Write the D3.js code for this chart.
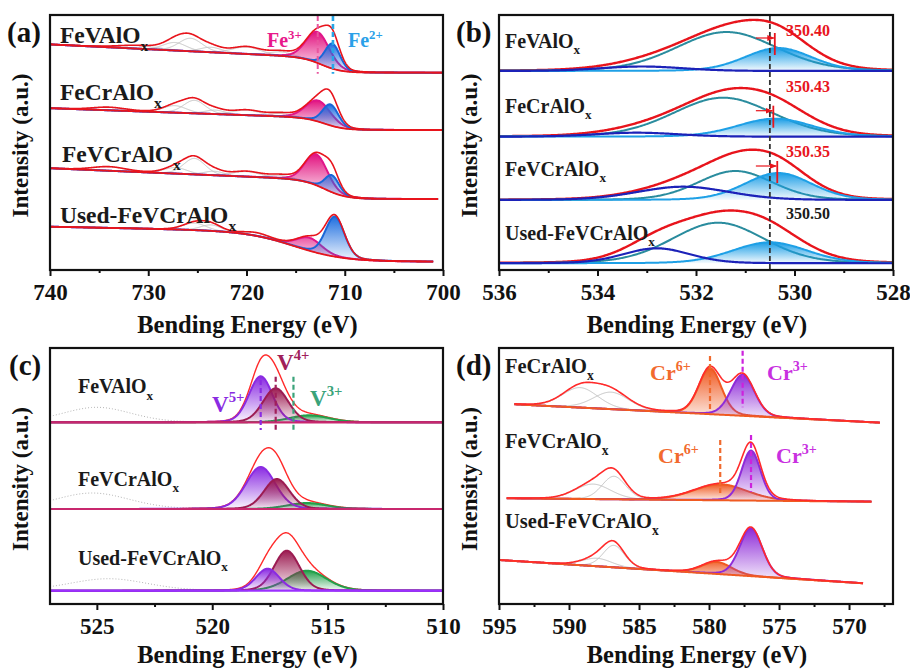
<!DOCTYPE html>
<html>
<head>
<meta charset="utf-8">
<script src="https://cdn.jsdelivr.net/npm/d3@7"></script>
<style>
  body { margin: 0; background: #fff; }
  text { font-family: "Liberation Serif", "Times New Roman", serif; font-weight: bold; }
</style>
</head>
<body>
<svg id="fig" width="910" height="670"></svg>
<script>
//
// Data (peak fits: [centre eV, height a.u., FWHM eV])
//

// (a) Fe 2p
const feDomain = [740, 700];
const feTicks = [740, 730, 720, 710, 700];
const feMinor = [735, 725, 715, 705];
const feSamples = ["FeVAlO", "FeCrAlO", "FeVCrAlO", "Used-FeVCrAlO"];
const feOffset = [197.3, 140, 71, 8.3];
const feEnd = [700, 700, 700.5, 701];
// shirley-ish background: [step, step centre, step width, slope on high BE side]
const feBg = [[15, 712.3, 1.0, 0.48], [12, 712, 1.0, 0.35], [19, 712, 1.1, 0.42], [30, 715, 2.5, 0.2]];
const fe3 = [[712.75, 31, 2.8], [712.7, 21, 3.0], [712.9, 31, 2.7], [713.6, 13, 3.0]];
const fe2 = [[711.25, 25, 1.8], [711.45, 21, 1.9], [711.3, 17, 1.7], [711.0, 40, 2.3]];
const feSat = [
  [[731, 3, 5], [727.3, 8, 2.8], [725.7, 13, 2.8], [723.6, 5, 2.6], [720.0, 7, 3.4], [716.5, 4, 2.8]],
  [[734, 3, 4], [727.3, 7, 2.8], [725.3, 13, 2.6], [723.2, 4, 2.4], [720.0, 5, 3.4], [716.5, 3, 2.8]],
  [[734, 4, 4], [727.2, 6, 2.8], [725.3, 16, 2.6], [723.3, 4, 2.4], [720.0, 5, 3.4], [716.5, 3, 2.8]],
  [[725.3, 7, 2.8], [723.6, 6, 2.5], [719.0, 3, 3.0]]
];
const feLines = [712.75, 711.2]; // Fe3+, Fe2+

// (b) O 1s
const oDomain = [536, 528];
const oTicks = [536, 534, 532, 530, 528];
const oMinor = [535, 533, 531, 529];
const oSamples = ["FeVAlO", "FeCrAlO", "FeVCrAlO", "Used-FeVCrAlO"];
const oOffset = [199, 133.3, 70, 6.7];
const oLatt = [[530.33, 23, 1.6], [530.4, 18, 1.8], [530.33, 27, 1.6], [530.5, 21, 1.8]];
const oVac = [[531.38, 39, 2.4], [531.45, 39, 2.4], [531.2, 29, 1.8], [531.55, 40.6, 2.2]];
const oAds = [[533.1, 4.5, 2.0], [533.2, 4, 2.0], [532.26, 13.3, 2.2], [532.8, 15, 1.6]];
const oRef = 530.5;
const oShift = [530.40, 530.43, 530.35, 530.50];
const oShiftText = ["350.40", "350.43", "350.35", "350.50"];

// (c) V 2p
const vDomain = [527.03, 510];
const vTicks = [525, 520, 515, 510];
const vMinor = [522.5, 517.5, 512.5];
const vSamples = ["FeVAlO", "FeVCrAlO", "Used-FeVCrAlO"];
const vOffset = [181.7, 95, 13.3];
const v5 = [[517.9, 46, 1.2], [517.9, 42, 1.5], [517.6, 22, 1.2]];
const v4 = [[517.25, 34, 1.3], [517.2, 30, 1.3], [516.77, 40, 1.3]];
const v3 = [[515.8, 7, 2.0], [515.9, 6, 2.0], [515.9, 20, 2.0]];
const vRaw = [[525, 15, 3.5], [525.2, 16, 3.8], [524.5, 12, 4]];
const vLines = [517.9, 517.25, 516.48]; // V5+, V4+, V3+

// (d) Cr 2p
const crDomain = [595, 566.86];
const crTicks = [595, 590, 585, 580, 575, 570];
const crMinor = [592.5, 587.5, 582.5, 577.5, 572.5, 567.5];
const crSamples = ["FeCrAlO", "FeVCrAlO", "Used-FeVCrAlO"];
const crSpan = [[593.9, 567.8], [594.45, 568.4], [595, 569]];
const crBg = [[199.7, 181.3], [105.7, 102.3], [44, 20.7]];
const cr6 = [[579.93, 46, 1.9], [579.2, 16, 4.5], [579.45, 12, 2.5]];
const cr3 = [[577.6, 41, 2.0], [577.0, 50, 1.6], [577.0, 48, 1.9]];
const crSat = [
  [[589.2, 20, 3.0], [587.0, 17, 3.0]],
  [[588.3, 15, 3.0], [586.8, 23, 2.0]],
  [[588.0, 8, 2.5], [586.8, 22, 1.8]]
];

//
// Helpers
//

const svg = d3.select("#fig");
const defs = svg.append("defs");

// gaussian-lorentzian line shape
function peak(E, p) {
  const t = (E - p[0]) / p[2];
  return p[1] * (0.85 * Math.exp(-4 * Math.LN2 * t * t) + 0.15 / (1 + 4 * t * t));
}

function gradient(id, color) {
  const g = defs.append("linearGradient").attr("id", id)
    .attr("x1", 0).attr("y1", 0).attr("x2", 0).attr("y2", 1);
  g.append("stop").attr("offset", "0%").attr("stop-color", color).attr("stop-opacity", 1);
  g.append("stop").attr("offset", "100%").attr("stop-color", color).attr("stop-opacity", 0.04);
}
gradient("gFe3", "#e2127f");
gradient("gFe2", "#1f6fe0");
gradient("gLatt", "#1c9ee6");
gradient("gV5", "#8a2be2");
gradient("gV4", "#9c1c52");
gradient("gV3", "#22a04a");
gradient("gCr6", "#f05a22");
gradient("gCr3", "#8e2bd8");

defs.append("marker").attr("id", "arrowR")
  .attr("viewBox", "0 0 10 10").attr("refX", 9).attr("refY", 5)
  .attr("markerWidth", 6).attr("markerHeight", 6).attr("orient", "auto")
  .append("path").attr("d", "M0,1L10,5L0,9z").attr("fill", "#e8141c");

function drawFrame(g, b, x, major, minor, title, letter, letterX, titleDy) {
  const ax = g.append("g").attr("transform", `translate(0,${b.y1})`)
    .call(d3.axisBottom(x).tickValues(major).tickSize(6).tickSizeOuter(0).tickPadding(8));
  ax.select(".domain").remove();
  ax.selectAll("line").attr("stroke", "#111").attr("stroke-width", 2);
  ax.selectAll("text").attr("font-size", 23).attr("fill", "#111");
  const mi = g.append("g").attr("transform", `translate(0,${b.y1})`)
    .call(d3.axisBottom(x).tickValues(minor).tickSize(3).tickSizeOuter(0).tickFormat(""));
  mi.select(".domain").remove();
  mi.selectAll("line").attr("stroke", "#111").attr("stroke-width", 2);

  g.append("rect").attr("x", b.x0).attr("y", b.y0)
    .attr("width", b.x1 - b.x0).attr("height", b.y1 - b.y0)
    .attr("fill", "none").attr("stroke", "#111").attr("stroke-width", 2.2);

  g.append("text").attr("x", (b.x0 + b.x1) / 2 + 1).attr("y", b.y1 + titleDy)
    .attr("text-anchor", "middle").attr("font-size", 24.5).attr("fill", "#111").text(title);
  g.append("text")
    .attr("transform", `translate(${b.x0 - 22},${(b.y0 + b.y1) / 2 + 3}) rotate(-90)`)
    .attr("text-anchor", "middle").attr("font-size", 23).attr("fill", "#111").text("Intensity (a.u.)");
  g.append("text").attr("x", letterX).attr("y", b.y0 + 27)
    .attr("font-size", 29).attr("fill", "#111").text(letter);
}

function sampleLabel(g, x, y, name, size) {
  const t = g.append("text").attr("x", x).attr("y", y).attr("font-size", size).attr("fill", "#1a1a1a");
  t.append("tspan").text(name);
  t.append("tspan").attr("font-size", size * 0.66).attr("dy", size * 0.32).text("x");
}

function ionLabel(g, x, y, base, sup, size, color) {
  const t = g.append("text").attr("x", x).attr("y", y).attr("font-size", size).attr("fill", color);
  t.append("tspan").text(base);
  t.append("tspan").attr("font-size", size * 0.64).attr("dy", -size * 0.42).text(sup);
}

function dashed(g, x, ya, yb, color, w) {
  g.append("line").attr("x1", x).attr("x2", x).attr("y1", ya).attr("y2", yb)
    .attr("stroke", color).attr("stroke-width", w || 2).attr("stroke-dasharray", "5,3");
}

//
// (a) Fe 2p
//
const bA = { x0: 50, x1: 443, y0: 15, y1: 270 };
const gA = svg.append("g");
const xA = d3.scaleLinear().domain(feDomain).range([bA.x0, bA.x1]);
const yA = d3.scaleLinear().domain([0, 255]).range([bA.y1, bA.y0]);

feSamples.forEach((name, i) => {
  const s = feBg[i];
  const bg = E => feOffset[i] + s[0] / (1 + Math.exp(-(E - s[1]) / s[2])) + s[3] * Math.log1p(Math.exp(E - s[1]));
  const pts = d3.range(feDomain[0], feEnd[i] - 0.001, -0.05).map(E => ({
    E: E, b: bg(E),
    f3: peak(E, fe3[i]), f2: peak(E, fe2[i]),
    sat: feSat[i].map(p => peak(E, p))
  }));
  const line = d3.line().x(d => xA(d[0])).y(d => yA(d[1]));
  const area = d3.area().x(d => xA(d.E)).y0(d => yA(d.b));

  feSat[i].forEach((p, k) => {
    gA.append("path").attr("d", line(pts.map(d => [d.E, d.b + d.sat[k]])))
      .attr("fill", "none").attr("stroke", "#c4c4c4").attr("stroke-width", 1);
  });
  gA.append("path").attr("d", area.y1(d => yA(d.b + d.f3))(pts)).attr("fill", "url(#gFe3)");
  gA.append("path").attr("d", line(pts.map(d => [d.E, d.b + d.f3])))
    .attr("fill", "none").attr("stroke", "#e0168a").attr("stroke-width", 2);
  gA.append("path").attr("d", area.y1(d => yA(d.b + d.f2))(pts)).attr("fill", "url(#gFe2)");
  gA.append("path").attr("d", line(pts.map(d => [d.E, d.b + d.f2])))
    .attr("fill", "none").attr("stroke", "#1a66d8").attr("stroke-width", 2);
  gA.append("path").attr("d", line(pts.map(d => [d.E, d.b])))
    .attr("fill", "none").attr("stroke", "#e8141c").attr("stroke-width", 1.8);
  gA.append("path").attr("d", line(pts.map(d => [d.E, d.b + d.f3 + d.f2 + d3.sum(d.sat)])))
    .attr("fill", "none").attr("stroke", "#e8141c").attr("stroke-width", 1.6);
});

dashed(gA, xA(feLines[0]), bA.y0 + 1, yA(feOffset[0]) + 1, "#e8559e", 2);
dashed(gA, xA(feLines[1]), bA.y0 + 1, yA(feOffset[0]) + 1, "#27a6e6", 2.6);
ionLabel(gA, 267, 47, "Fe", "3+", 20, "#e8198b");
ionLabel(gA, 348, 47, "Fe", "2+", 20, "#2aa0e8");
[[60, 43], [60, 100], [62, 162], [60, 223]].forEach((p, i) => sampleLabel(gA, p[0], p[1], feSamples[i], 23.5));
drawFrame(gA, bA, xA, feTicks, feMinor, "Bending Energy (eV)", "(a)", 7, 63);

//
// (b) O 1s
//
const bB = { x0: 499, x1: 893, y0: 15, y1: 270 };
const gB = svg.append("g");
const xB = d3.scaleLinear().domain(oDomain).range([bB.x0, bB.x1]);
const yB = d3.scaleLinear().domain([0, 255]).range([bB.y1, bB.y0]);
const arrowLift = [33, 26, 34];

oSamples.forEach((name, i) => {
  const base = oOffset[i];
  const pts = d3.range(oDomain[0], oDomain[1] - 0.001, -0.02).map(E => ({
    E: E, l: peak(E, oLatt[i]), v: peak(E, oVac[i]), a: peak(E, oAds[i])
  }));
  const line = d3.line().x(d => xB(d[0])).y(d => yB(base + d[1]));
  gB.append("path").attr("d", line(pts.map(d => [d.E, d.l + d.v + d.a])))
    .attr("fill", "none").attr("stroke", "#e8141c").attr("stroke-width", 2.4);
  gB.append("path").attr("d", line(pts.map(d => [d.E, d.v])))
    .attr("fill", "none").attr("stroke", "#2a8c9e").attr("stroke-width", 2);
  gB.append("path")
    .attr("d", d3.area().x(d => xB(d.E)).y0(yB(base)).y1(d => yB(base + d.l))(pts))
    .attr("fill", "url(#gLatt)");
  gB.append("path").attr("d", line(pts.map(d => [d.E, d.l])))
    .attr("fill", "none").attr("stroke", "#1ea0e6").attr("stroke-width", 2);
  gB.append("path").attr("d", line(pts.map(d => [d.E, d.a])))
    .attr("fill", "none").attr("stroke", "#1c22b8").attr("stroke-width", 2.2);
});

dashed(gB, xB(oRef), bB.y0 + 1, bB.y1 - 1, "#333", 1.8);
oShiftText.forEach((t, i) => {
  gB.append("text").attr("x", 808).attr("y", [36, 92, 156.7, 219.3][i])
    .attr("text-anchor", "middle").attr("font-size", 16)
    .attr("fill", i < 3 ? "#e8141c" : "#1a1a1a").text(t);
  if (i < 3) {
    const ya = yB(oOffset[i] + arrowLift[i]);
    gB.append("line").attr("x1", xB(oRef) - 14).attr("x2", xB(oShift[i]) - 1)
      .attr("y1", ya).attr("y2", ya).attr("stroke", "#e8141c").attr("stroke-width", 1.2)
      .attr("marker-end", "url(#arrowR)");
    gB.append("line").attr("x1", xB(oShift[i])).attr("x2", xB(oShift[i]))
      .attr("y1", ya - 5).attr("y2", ya + 17).attr("stroke", "#e8141c").attr("stroke-width", 1.8);
  }
});
[48, 113, 176, 240].forEach((y, i) => sampleLabel(gB, 505, y, oSamples[i], 20));
drawFrame(gB, bB, xB, oTicks, oMinor, "Bending Energy (eV)", "(b)", 456, 63);

//
// (c) V 2p
//
const bC = { x0: 50, x1: 443, y0: 348, y1: 604 };
const gC = svg.append("g");
const xC = d3.scaleLinear().domain(vDomain).range([bC.x0, bC.x1]);
const yC = d3.scaleLinear().domain([0, 256]).range([bC.y1, bC.y0]);

vSamples.forEach((name, i) => {
  const base = vOffset[i];
  const pts = d3.range(vDomain[0], vDomain[1] - 0.001, -0.02).map(E => ({
    E: E, v5: peak(E, v5[i]), v4: peak(E, v4[i]), v3: peak(E, v3[i])
  }));
  const line = d3.line().x(d => xC(d[0])).y(d => yC(base + d[1]));
  const area = d3.area().x(d => xC(d.E)).y0(yC(base));

  const raw = d3.range(vDomain[0], 519, -0.15).map(E => [E, peak(E, vRaw[i])]);
  gC.append("path").attr("d", line(raw)).attr("fill", "none")
    .attr("stroke", "#b5b5b5").attr("stroke-width", 1).attr("stroke-dasharray", "1,2");

  gC.append("path").attr("d", line(pts.map(d => [d.E, d.v5 + d.v4 + d.v3])))
    .attr("fill", "none").attr("stroke", "#ff2a2a").attr("stroke-width", 1.4);

  const comps = [["v3", "url(#gV3)", "#22a04a"], ["v5", "url(#gV5)", "#8a2be2"], ["v4", "url(#gV4)", "#9c1c52"]];
  if (i === 2) comps.push(comps.splice(1, 1)[0]); // purple on top for used sample
  comps.forEach(c => {
    gC.append("path").attr("d", area.y1(d => yC(base + d[c[0]]))(pts)).attr("fill", c[1]);
    gC.append("path").attr("d", line(pts.map(d => [d.E, d[c[0]]])))
      .attr("fill", "none").attr("stroke", c[2]).attr("stroke-width", 2);
  });
  gC.append("line").attr("x1", bC.x0).attr("x2", bC.x1).attr("y1", yC(base)).attr("y2", yC(base))
    .attr("stroke", i === 2 ? "#9b30ff" : "#c8286e").attr("stroke-width", 2.2);
});

dashed(gC, xC(vLines[0]), 380, 430, "#8a2be2", 2.2);
dashed(gC, xC(vLines[1]), 376.7, 430, "#a0205a", 2.2);
dashed(gC, xC(vLines[2]), 376.7, 430, "#3aa37a", 2.2);
ionLabel(gC, 212, 411.7, "V", "5+", 23, "#8a2be2");
ionLabel(gC, 277, 370, "V", "4+", 23, "#a0205a");
ionLabel(gC, 310, 406, "V", "3+", 23, "#3aa37a");
[393.3, 485.7, 565].forEach((y, i) => sampleLabel(gC, 78, y, vSamples[i], 20));
drawFrame(gC, bC, xC, vTicks, vMinor, "Bending Energy (eV)", "(c)", 9, 59);

//
// (d) Cr 2p
//
const bD = { x0: 499, x1: 893, y0: 348, y1: 604 };
const gD = svg.append("g");
const xD = d3.scaleLinear().domain(crDomain).range([bD.x0, bD.x1]);
const yD = d3.scaleLinear().domain([0, 256]).range([bD.y1, bD.y0]);

crSamples.forEach((name, i) => {
  const bg = d3.scaleLinear().domain(crSpan[i]).range(crBg[i]);
  const pts = d3.range(crSpan[i][0], crSpan[i][1] - 0.001, -0.05).map(E => ({
    E: E, b: bg(E), c6: peak(E, cr6[i]), c3: peak(E, cr3[i]),
    sat: crSat[i].map(p => peak(E, p))
  }));
  const line = d3.line().x(d => xD(d[0])).y(d => yD(d[1]));
  const area = d3.area().x(d => xD(d.E)).y0(d => yD(d.b));

  crSat[i].forEach((p, k) => {
    gD.append("path").attr("d", line(pts.map(d => [d.E, d.b + d.sat[k]])))
      .attr("fill", "none").attr("stroke", "#c4c4c4").attr("stroke-width", 1);
  });
  gD.append("path").attr("d", area.y1(d => yD(d.b + d.c6))(pts)).attr("fill", "url(#gCr6)");
  gD.append("path").attr("d", line(pts.map(d => [d.E, d.b + d.c6])))
    .attr("fill", "none").attr("stroke", "#f05a22").attr("stroke-width", 2);
  gD.append("path").attr("d", area.y1(d => yD(d.b + d.c3))(pts)).attr("fill", "url(#gCr3)");
  gD.append("path").attr("d", line(pts.map(d => [d.E, d.b + d.c3])))
    .attr("fill", "none").attr("stroke", "#8e2bd8").attr("stroke-width", 2);
  gD.append("path").attr("d", line(pts.map(d => [d.E, d.b])))
    .attr("fill", "none").attr("stroke", "#f05a22").attr("stroke-width", 2);
  gD.append("path").attr("d", line(pts.map(d => [d.E, d.b + d.c6 + d.c3 + d3.sum(d.sat)])))
    .attr("fill", "none").attr("stroke", "#ff2a2a").attr("stroke-width", 1.6);
});

dashed(gD, xD(cr6[0][0]), 356, 410.7, "#f06a2e", 2.2);
dashed(gD, xD(cr3[0][0]), 350.7, 407.3, "#cc22dd", 2.2);
dashed(gD, xD(cr6[1][0]), 440, 495, "#f06a2e", 2.2);
dashed(gD, xD(cr3[1][0]), 435, 491.7, "#cc22dd", 2.2);
ionLabel(gD, 650, 380, "Cr", "6+", 22, "#f26a2e");
ionLabel(gD, 767, 380, "Cr", "3+", 22, "#c830e0");
ionLabel(gD, 658, 463.3, "Cr", "6+", 22, "#f26a2e");
ionLabel(gD, 776, 463.3, "Cr", "3+", 22, "#c830e0");
[373.3, 448.3, 528.3].forEach((y, i) => sampleLabel(gD, 505, y, crSamples[i], 20.5));
drawFrame(gD, bD, xD, crTicks, crMinor, "Bending Energy (eV)", "(d)", 456, 59);
</script>
</body>
</html>
